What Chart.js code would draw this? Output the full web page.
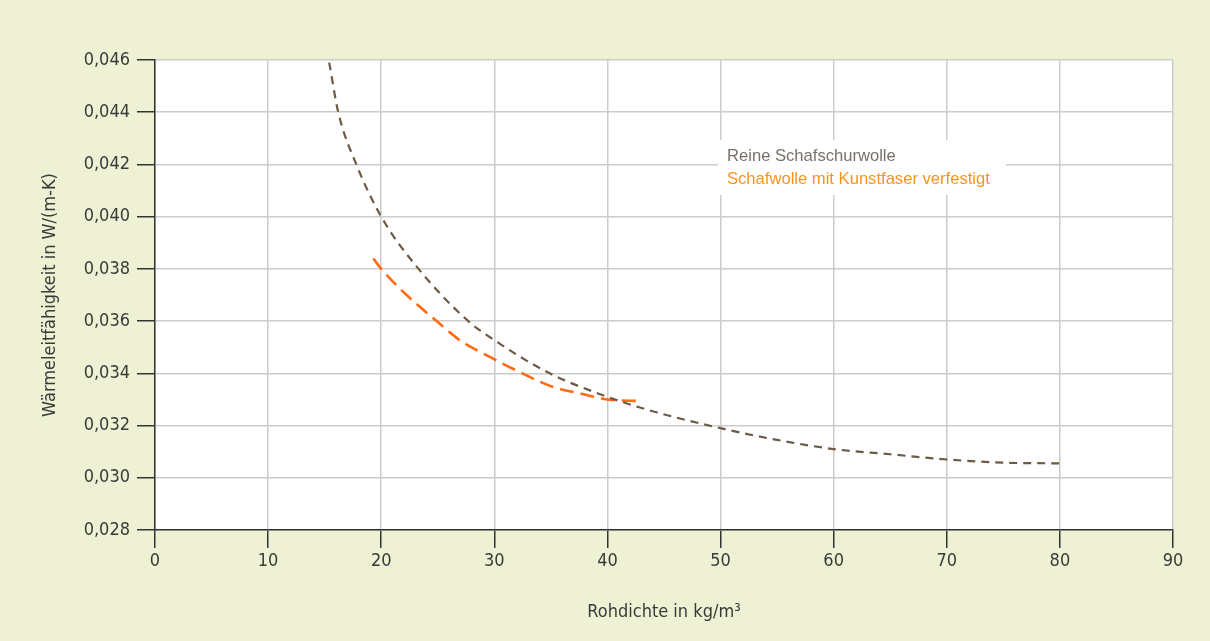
<!DOCTYPE html>
<html>
<head>
<meta charset="utf-8">
<script src="https://cdn.jsdelivr.net/npm/chart.js@4.4.1/dist/chart.umd.min.js"></script>
<style>
  html, body { margin: 0; padding: 0; background: #eff1d4; }
  #canvas { display: block; }
</style>
</head>
<body>
<canvas id="canvas" width="1210" height="641"></canvas>
<script>
const xTicks = [0, 10, 20, 30, 40, 50, 60, 70, 80, 90];
const yTicks = [0.028, 0.030, 0.032, 0.034, 0.036, 0.038, 0.040, 0.042, 0.044, 0.046];

const seriesNames = ["Reine Schafschurwolle", "Schafwolle mit Kunstfaser verfestigt"];

// Reine Schafschurwolle
const pureX = [15.4, 16.2, 17.8, 20, 23.3, 27.7, 30, 34.9, 40, 44.4, 50, 55, 60, 65, 70, 75, 80];
const pureY = [0.0459, 0.0440, 0.0420, 0.0400, 0.0380, 0.0360, 0.03527, 0.0340, 0.0331, 0.0325, 0.0319, 0.03145, 0.0311, 0.0309, 0.0307, 0.03058, 0.03055];

// Schafwolle mit Kunstfaser verfestigt
const mixX = [19.3, 20, 22, 24.9, 27, 29.6, 32, 35.2, 37.9, 40, 42.7];
const mixY = [0.0384, 0.0380, 0.0371, 0.0360, 0.03525, 0.03463, 0.0341, 0.03348, 0.0332, 0.0330, 0.03294];

const toPoints = (xs, ys) => xs.map((x, i) => ({ x: x, y: ys[i] }));

const tickFont = { family: "'Liberation Sans Narrow', 'DejaVu Sans Condensed', 'Liberation Sans'", size: 18 };
const titleFont = { family: "'Liberation Sans Narrow', 'DejaVu Sans Condensed', 'Liberation Sans'", size: 18 };

const background = {
  id: "background",
  beforeDraw(chart) {
    const { ctx, chartArea: a } = chart;
    ctx.save();
    ctx.fillStyle = "#eff1d4";
    ctx.fillRect(0, 0, chart.width, chart.height);
    ctx.fillStyle = "#ffffff";
    ctx.fillRect(a.left, a.top, a.right - a.left, a.bottom - a.top);
    ctx.restore();
  },
};

const legendBox = {
  id: "legendBox",
  beforeDatasetsDraw(chart) {
    const ctx = chart.ctx;
    ctx.save();
    ctx.fillStyle = "#ffffff";
    ctx.fillRect(718, 140, 288, 55);
    ctx.font = "16.6px 'Liberation Sans'";
    ctx.textBaseline = "alphabetic";
    ctx.fillStyle = "#77716b";
    ctx.fillText(seriesNames[0], 727, 161);
    ctx.fillStyle = "#f7941d";
    ctx.fillText(seriesNames[1], 727, 184);
    ctx.restore();
  },
};

let ctx = document.getElementById("canvas");
let myChart = new Chart(ctx, {
  type: "scatter",
  data: {
    datasets: [
      {
        label: seriesNames[0],
        data: toPoints(pureX, pureY),
        showLine: true,
        fill: false,
        borderColor: "#6b5a46",
        borderWidth: 2.2,
        borderDash: [8, 6],
        pointRadius: 0,
        cubicInterpolationMode: "monotone",
      },
      {
        label: seriesNames[1],
        data: toPoints(mixX, mixY),
        showLine: true,
        fill: false,
        borderColor: "#ff6a13",
        borderWidth: 2.6,
        borderDash: [14, 7],
        pointRadius: 0,
        cubicInterpolationMode: "monotone",
      },
    ],
  },
  options: {
    responsive: false,
    animation: false,
    layout: { padding: { left: 0, right: 37, top: 60, bottom: 0 } },
    plugins: { legend: { display: false }, tooltip: { enabled: false } },
    scales: {
      x: {
        type: "linear",
        min: 0,
        max: 90,
        afterBuildTicks: (scale) => { scale.ticks = xTicks.map((v) => ({ value: v })); },
        afterFit: (scale) => { scale.height = 111; },
        grid: { color: "#cccccc", lineWidth: 1.5, tickColor: "#333333", tickLength: 18, tickWidth: 1.5 },
        border: { color: "#333333", width: 1.5 },
        ticks: { color: "#3a3a3a", font: tickFont, padding: 3, maxRotation: 0 },
        title: { display: true, text: "Rohdichte in kg/m³", color: "#3a3a3a", font: titleFont, padding: { top: 0, bottom: 18 } },
      },
      y: {
        type: "linear",
        min: 0.028,
        max: 0.046,
        afterBuildTicks: (scale) => { scale.ticks = yTicks.map((v) => ({ value: v })); },
        afterFit: (scale) => { scale.width = 155; },
        grid: { color: "#cccccc", lineWidth: 1.5, tickColor: "#333333", tickLength: 18, tickWidth: 1.5 },
        border: { color: "#333333", width: 1.5 },
        ticks: {
          color: "#3a3a3a",
          font: tickFont,
          padding: 7,
          callback: (v) => v.toFixed(3).replace(".", ","),
        },
        title: { display: true, text: "Wärmeleitfähigkeit in W/(m-K)", color: "#3a3a3a", font: titleFont, padding: { top: 40, bottom: 0 } },
      },
    },
  },
  plugins: [background, legendBox],
});
</script>
</body>
</html>
